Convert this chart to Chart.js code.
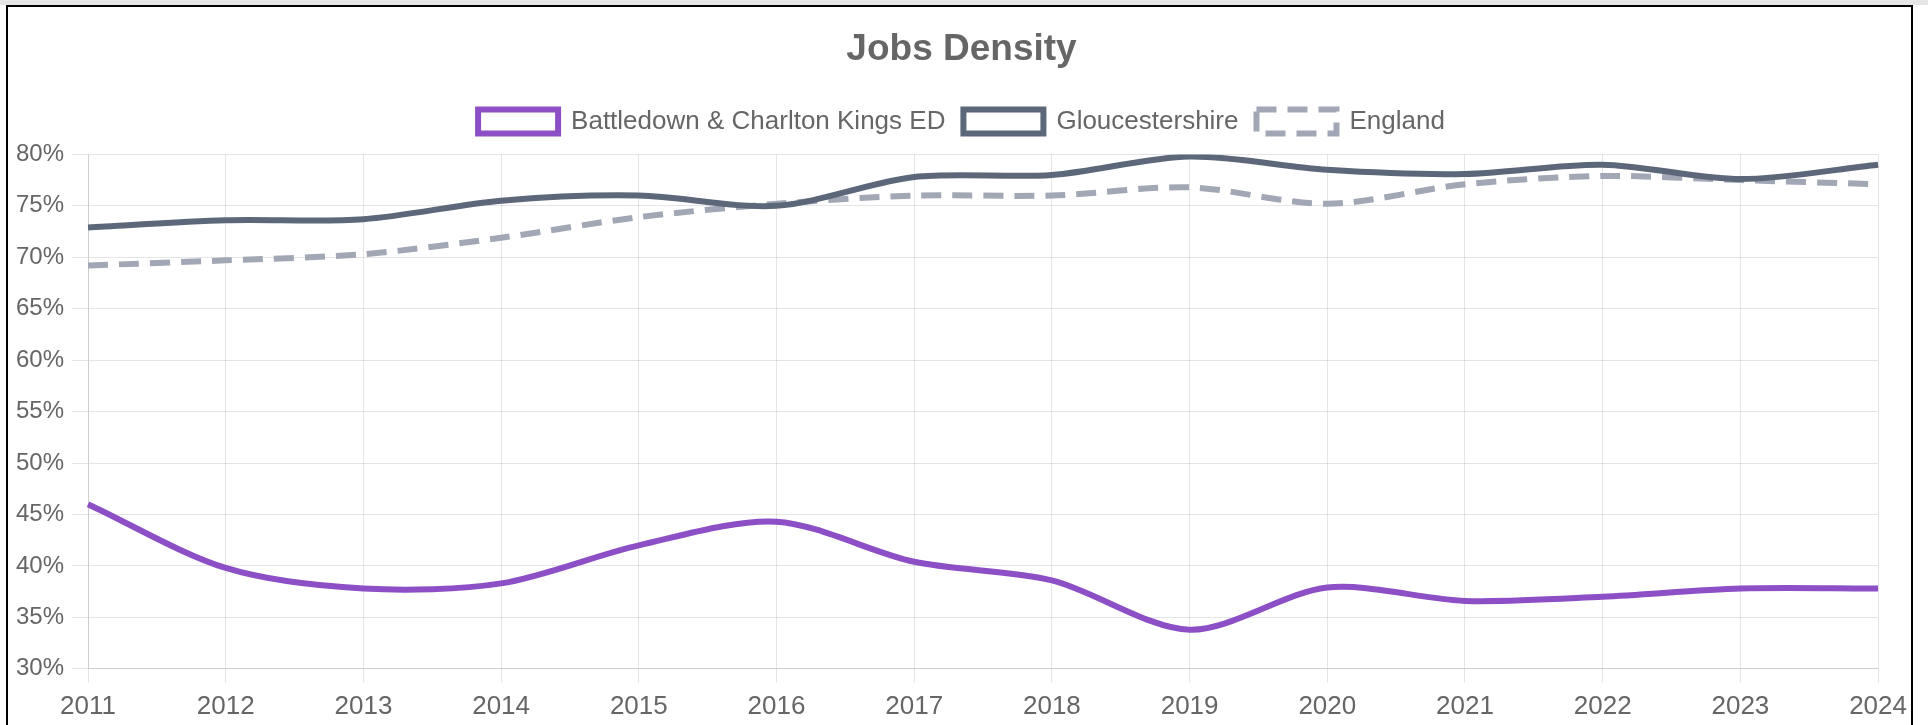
<!DOCTYPE html>
<html lang="en">
<head>
  <meta charset="UTF-8">
  <title>Jobs Density</title>
  <script src="https://cdn.jsdelivr.net/npm/chart.js"></script>
  <style>
    html, body {
      margin: 0;
      padding: 0;
      background: #fff;
      overflow: hidden;
    }
    .topbar {
      height: 5px;
      background: #e6e6e6;
    }
    .frame {
      position: absolute;
      left: 6px;
      top: 5px;
      width: 1907px;
      height: 760px;
      border: 2px solid #000;
      box-sizing: border-box;
      background: #fff;
      overflow: hidden;
    }
    .chart-box {
      position: relative;
      width: 1907px;
      height: 726px;
    }
  </style>
</head>
<body>
  <div class="topbar"></div>
  <div class="frame">
    <div class="chart-box">
      <canvas id="jobsChart"></canvas>
    </div>
  </div>
  <script>
    const years = ["2011", "2012", "2013", "2014", "2015", "2016", "2017",
                   "2018", "2019", "2020", "2021", "2022", "2023", "2024"];
    const battledown = [46.0, 39.8, 37.8, 38.3, 42.0, 44.3, 40.4, 38.6, 33.8, 37.9, 36.6, 37.0, 37.8, 37.8];
    const gloucestershire = [72.9, 73.6, 73.7, 75.5, 76.0, 75.0, 77.8, 78.0, 79.8, 78.5, 78.1, 79.0, 77.6, 79.0];
    const england = [69.2, 69.7, 70.3, 71.9, 73.9, 75.2, 76.0, 76.0, 76.8, 75.2, 77.1, 77.9, 77.5, 77.1];

    // extra gap under the legend
    const legendGap = {
      id: "legendGap",
      beforeInit(chart) {
        const fit = chart.legend.fit;
        chart.legend.fit = function () {
          fit.bind(chart.legend)();
          this.height += 10;
        };
      }
    };

    Chart.defaults.font.family = "Arial, 'Liberation Sans', sans-serif";
    Chart.defaults.color = "#666";

    new Chart(document.getElementById("jobsChart"), {
      type: "line",
      data: {
        labels: years,
        datasets: [
          {
            label: "Battledown & Charlton Kings ED",
            data: battledown,
            borderColor: "#8c4fc6",
            backgroundColor: "#fff",
            borderWidth: 6,
            pointRadius: 0,
            tension: 0.3
          },
          {
            label: "Gloucestershire",
            data: gloucestershire,
            borderColor: "#5d677a",
            backgroundColor: "#fff",
            borderWidth: 6,
            pointRadius: 0,
            tension: 0.3
          },
          {
            label: "England",
            data: england,
            borderColor: "#a1a7b4",
            backgroundColor: "#fff",
            borderWidth: 6,
            borderDash: [20, 11],
            pointRadius: 0,
            tension: 0.3
          }
        ]
      },
      options: {
        responsive: true,
        maintainAspectRatio: false,
        animation: false,
        layout: { padding: { left: 0, right: 0, top: 0, bottom: 3 } },
        plugins: {
          title: {
            display: true,
            text: "Jobs Density",
            color: "#666",
            font: { size: 37, weight: "bold" },
            padding: { top: 21, bottom: 18 }
          },
          legend: {
            position: "top",
            labels: {
              boxWidth: 80,
              boxHeight: 24,
              padding: 18,
              font: { size: 26 }
            }
          },
          tooltip: { enabled: false }
        },
        scales: {
          x: {
            grid: { color: "rgba(0,0,0,0.1)", tickLength: 14 },
            ticks: { font: { size: 26 }, padding: 8, maxRotation: 0 }
          },
          y: {
            min: 30,
            max: 80,
            grid: { color: "rgba(0,0,0,0.1)", tickLength: 16 },
            ticks: {
              stepSize: 5,
              font: { size: 24 },
              padding: 8,
              callback: (v) => v + "%"
            }
          }
        }
      },
      plugins: [legendGap]
    });
  </script>
</body>
</html>
